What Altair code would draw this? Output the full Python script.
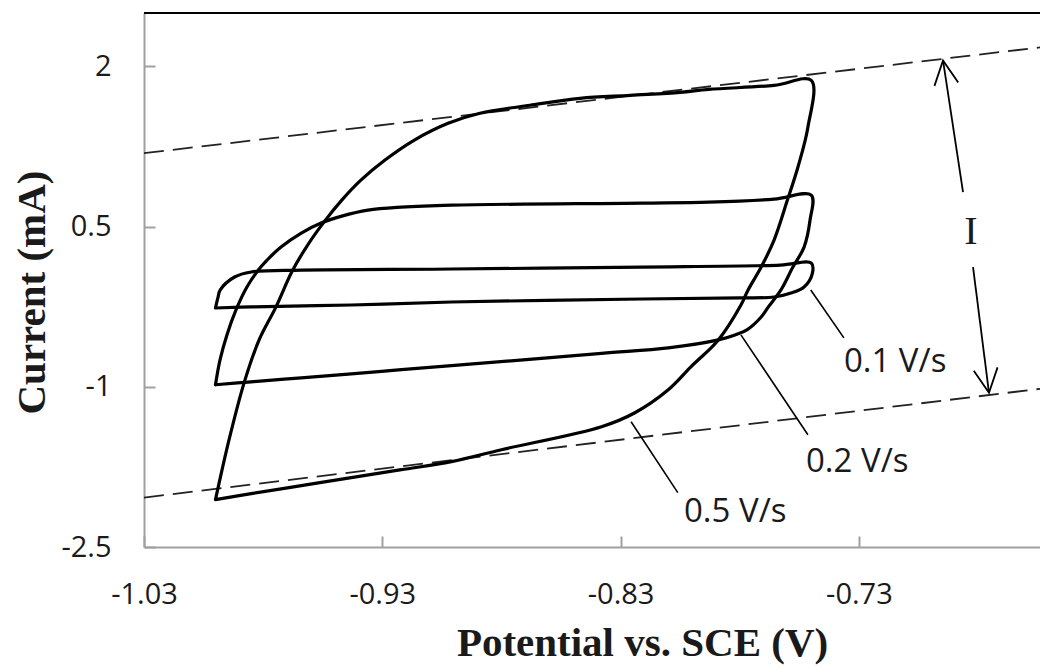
import altair as alt
import pandas as pd

# ---------------- data ----------------
x_ticks = [-1.03, -0.93, -0.83, -0.73]
y_ticks = [2, 0.5, -1, -2.5]

# 0.1 V/s loop (anodic sweep then cathodic sweep), potential V vs SCE, current mA
v_01 = [-1.000, -0.999, -0.998, -0.992, -0.985, -0.964, -0.901, -0.821, -0.763, -0.750,
        -0.7495, -0.753, -0.7585, -0.7656, -0.7795, -0.821, -0.901, -0.943, -0.985, -1.000]
i_01 = [-0.262, -0.168, -0.093, 0.028, 0.075, 0.093, 0.103, 0.121, 0.140, 0.159,
        0.065, -0.065, -0.121, -0.159, -0.168, -0.178, -0.206, -0.234, -0.252, -0.262]

# 0.2 V/s loop
v_02 = [-1.000, -0.9981, -0.9952, -0.9914, -0.9868, -0.981, -0.9725, -0.964, -0.9557, -0.947,
        -0.936, -0.922, -0.901, -0.821, -0.793, -0.7656, -0.750,
        -0.7505, -0.753, -0.7577, -0.7627, -0.768, -0.771, -0.777, -0.782, -0.789,
        -0.810, -0.838, -0.901, -0.922, -0.943, -0.964, -0.985, -1.000]
i_02 = [-0.981, -0.748, -0.514, -0.280, -0.065, 0.121, 0.308, 0.439, 0.533, 0.598,
        0.654, 0.682, 0.701, 0.720, 0.729, 0.757, 0.794,
        0.561, 0.308, 0.121, -0.093, -0.252, -0.346, -0.467, -0.514, -0.561,
        -0.636, -0.687, -0.802, -0.840, -0.879, -0.916, -0.953, -0.981]

# 0.5 V/s loop
v_05 = [-1.000, -0.9943, -0.988, -0.9817, -0.9746, -0.968, -0.9616, -0.9545, -0.947, -0.939,
        -0.929, -0.9167, -0.9024, -0.889, -0.868, -0.847, -0.826, -0.805, -0.793,
        -0.7656, -0.750,
        -0.7514, -0.7556, -0.760, -0.7656, -0.771, -0.7765, -0.7795, -0.789, -0.8005,
        -0.810, -0.824, -0.838, -0.880, -0.901, -0.922, -0.943, -0.964, -0.985, -1.000]
i_05 = [-2.056, -1.495, -0.963, -0.561, -0.252, 0.075, 0.318, 0.542, 0.748, 0.935,
        1.121, 1.308, 1.467, 1.561, 1.636, 1.701, 1.729, 1.757, 1.785,
        1.822, 1.869,
        1.430, 1.056, 0.748, 0.374, 0.121, -0.093, -0.234, -0.561, -0.813,
        -1.028, -1.243, -1.374, -1.589, -1.701, -1.776, -1.850, -1.925, -2.000, -2.056]

# dashed envelope lines
dash_v = [-1.03, -0.654]
dash_upper_i = [1.187, 2.178]
dash_lower_i = [-2.037, -1.019]

# labels and leader lines
rate_labels = ["0.1 V/s", "0.2 V/s", "0.5 V/s"]
label_v = [-0.7363, -0.7522, -0.8034]
label_i = [-0.766, -1.701, -2.168]
lead_v1 = [-0.7502, -0.7795, -0.8256]
lead_i1 = [-0.093, -0.514, -1.327]
lead_v2 = [-0.7363, -0.7514, -0.8060]
lead_i2 = [-0.542, -1.449, -1.991]

# double arrow "I"
arrow_v1 = [-0.6947, -0.6821]
arrow_i1 = [2.056, 0.121]
arrow_v2 = [-0.6863, -0.6754]
arrow_i2 = [0.822, -1.056]
i_label_v = [-0.683]
i_label_i = [0.449]

# ---------------- tables ----------------
rows = []
for name, vs, cs in [(rate_labels[0], v_01, i_01), (rate_labels[1], v_02, i_02), (rate_labels[2], v_05, i_05)]:
    assert len(vs) == len(cs)
    for k, (a, b) in enumerate(zip(vs, cs)):
        rows.append({"rate": name, "k": k, "v": a, "i": b})
df_cv = pd.DataFrame(rows)

df_dash = pd.DataFrame({
    "which": ["upper", "upper", "lower", "lower"],
    "k": [0, 1, 0, 1],
    "v": dash_v + dash_v,
    "i": dash_upper_i + dash_lower_i,
})
df_lab = pd.DataFrame({"label": rate_labels, "v": label_v, "i": label_i})
df_lead = pd.DataFrame({"v1": lead_v1, "i1": lead_i1, "v2": lead_v2, "i2": lead_i2})
df_arrow = pd.DataFrame({"v1": arrow_v1, "i1": arrow_i1, "v2": arrow_v2, "i2": arrow_i2})
df_head_up = pd.DataFrame({"v": [arrow_v1[0]], "i": [arrow_i1[0]]})
df_head_dn = pd.DataFrame({"v": [arrow_v2[1]], "i": [arrow_i2[1]]})
df_I = pd.DataFrame({"v": i_label_v, "i": i_label_i, "t": ["I"]})

# ---------------- scales / axes ----------------
W, H = 896, 534
xs = alt.Scale(domain=[-1.03, -0.654], nice=False, zero=False)
ys = alt.Scale(domain=[-2.5, 2.5], nice=False, zero=False)
AX = "#a0a0a0"
TXT = "#1a1a1a"

x_axis_main = alt.Axis(
    values=x_ticks, labelExpr="'' + datum.value", orient="bottom",
    ticks=False, tickSize=0, grid=False, domain=True, domainColor=AX, domainWidth=2,
    labelFont="Open Sans", labelFontSize=29, labelColor=TXT, labelPadding=33,
    labelFlush=False, labelOverlap=False,
    title="Potential vs. SCE (V)", titleFont="Liberation Serif", titleFontSize=41,
    titleFontWeight="bold", titleColor=TXT, titleX=498, titleY=108,
    titleBaseline="alphabetic", titleAlign="center",
)
y_axis_main = alt.Axis(
    values=y_ticks, labelExpr="'' + datum.value", orient="left",
    ticks=False, tickSize=0, grid=False, domain=True, domainColor=AX, domainWidth=2,
    labelFont="Open Sans", labelFontSize=29, labelColor=TXT, labelPadding=33,
    labelFlush=False, labelOverlap=False,
    title="Current (mA)", titleFont="Liberation Serif", titleFontSize=41,
    titleFontWeight="bold", titleColor=TXT, titleAngle=270, titleX=-100, titleY=279,
    titleBaseline="alphabetic", titleAlign="center",
)
x_axis_ticks = alt.Axis(values=x_ticks, orient="bottom", offset=-11, ticks=True, tickSize=11,
                        tickColor=AX, tickWidth=2, labels=False, domain=False, grid=False, title=None)
y_axis_ticks = alt.Axis(values=y_ticks, orient="left", offset=-11, ticks=True, tickSize=11,
                        tickColor=AX, tickWidth=2, labels=False, domain=False, grid=False, title=None)

# ---------------- layers ----------------
curves = alt.Chart(df_cv).mark_line(
    color="black", strokeWidth=3.2, interpolate="catmull-rom", strokeJoin="round", strokeCap="round"
).encode(
    x=alt.X("v:Q", scale=xs, axis=x_axis_main),
    y=alt.Y("i:Q", scale=ys, axis=y_axis_main),
    detail="rate:N",
    order="k:Q",
)

dashed = alt.Chart(df_dash).mark_line(color="#222222", strokeWidth=1.8, strokeDash=[20, 9], clip=True).encode(
    x=alt.X("v:Q", scale=xs, axis=x_axis_ticks),
    y=alt.Y("i:Q", scale=ys, axis=y_axis_ticks),
    detail="which:N",
    order="k:Q",
)

leaders = alt.Chart(df_lead).mark_rule(color="black", strokeWidth=1.6).encode(
    x=alt.X("v1:Q", scale=xs, axis=None),
    y=alt.Y("i1:Q", scale=ys, axis=None),
    x2="v2:Q", y2="i2:Q",
)

arrows = alt.Chart(df_arrow).mark_rule(color="black", strokeWidth=1.8).encode(
    x=alt.X("v1:Q", scale=xs, axis=None),
    y=alt.Y("i1:Q", scale=ys, axis=None),
    x2="v2:Q", y2="i2:Q",
)

head_up = alt.Chart(df_head_up).mark_point(
    shape="M-0.5,1L0,0L0.5,1", filled=False, size=2304, strokeWidth=1.8,
    color="black", angle=352, opacity=1,
).encode(x=alt.X("v:Q", scale=xs, axis=None), y=alt.Y("i:Q", scale=ys, axis=None))

head_dn = alt.Chart(df_head_dn).mark_point(
    shape="M-0.5,-1L0,0L0.5,-1", filled=False, size=2304, strokeWidth=1.8,
    color="black", angle=352, opacity=1,
).encode(x=alt.X("v:Q", scale=xs, axis=None), y=alt.Y("i:Q", scale=ys, axis=None))

labels = alt.Chart(df_lab).mark_text(
    font="Open Sans", fontSize=33, align="left", baseline="middle", color=TXT
).encode(x=alt.X("v:Q", scale=xs, axis=None), y=alt.Y("i:Q", scale=ys, axis=None), text="label:N")

i_text = alt.Chart(df_I).mark_text(
    font="Liberation Serif", fontSize=40, align="center", baseline="middle", color=TXT
).encode(x=alt.X("v:Q", scale=xs, axis=None), y=alt.Y("i:Q", scale=ys, axis=None), text="t:N")

top_border = alt.Chart(df_I).mark_rule(color="black", strokeWidth=2).encode(
    x=alt.value(0), x2=alt.value(W), y=alt.value(0)
)

chart = alt.layer(
    dashed, curves, leaders, arrows, head_up, head_dn, labels, i_text, top_border
).resolve_axis(
    x="independent", y="independent"
).properties(
    width=W, height=H,
    padding={"left": 144, "top": 13, "right": 0, "bottom": 120},
    autosize=alt.AutoSizeParams(type="none"),
    background="white",
).configure_view(stroke=None)

chart.save("out.html", embed_options={"renderer": "svg", "actions": False})
